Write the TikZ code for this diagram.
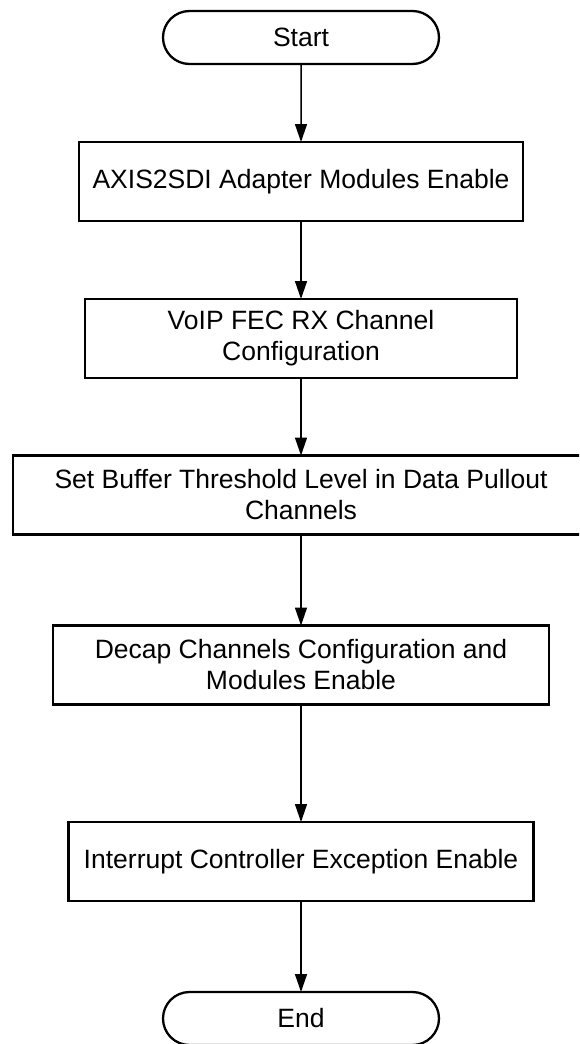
\documentclass[tikz,border=0pt]{standalone}
\usepackage{fontspec}
\setmainfont{Liberation Sans}
\usetikzlibrary{arrows.meta,shapes.misc}
\begin{document}
\begin{tikzpicture}[x=1pt,y=-1pt,
  stepbox/.style={draw, line width=2.3pt, rectangle, inner sep=0pt, outer sep=0pt,
    minimum height=79pt, align=center, font=\fontsize{26.5}{31}\selectfont},
  terminal/.style={draw, line width=2.3pt, rounded rectangle, inner sep=0pt, outer sep=0pt,
    minimum width=276pt, minimum height=53pt, font=\fontsize{26.5}{31}\selectfont},
  flow/.style={line width=1.5pt, -{Triangle[length=18pt,width=12pt]}}]
\clip (0,0) rectangle (579,1044);
% terminals and process steps
\node[terminal] (start) at (301,37.5) {Start};
\node[stepbox, minimum width=444pt] (s1) at (301,181.5) {AXIS2SDI Adapter Modules Enable};
\node[stepbox, minimum width=432pt] (s2) at (301,338.5) {VoIP FEC RX Channel\\Configuration};
\node[stepbox, minimum width=576pt] (s3) at (301,495) {Set Buffer Threshold Level in Data Pullout\\Channels};
\node[stepbox, minimum width=496pt] (s4) at (301,665) {Decap Channels Configuration and\\Modules Enable};
\node[stepbox, minimum width=465pt] (s5) at (301,861.5) {Interrupt Controller Exception Enable};
\node[terminal] (end) at (301,1018.5) {End};
% flow connectors
\draw[flow] (start) -- (s1);
\draw[flow] (s1) -- (s2);
\draw[flow] (s2) -- (s3);
\draw[flow] (s3) -- (s4);
\draw[flow] (s4) -- (s5);
\draw[flow] (s5) -- (end);
\end{tikzpicture}
\end{document}
